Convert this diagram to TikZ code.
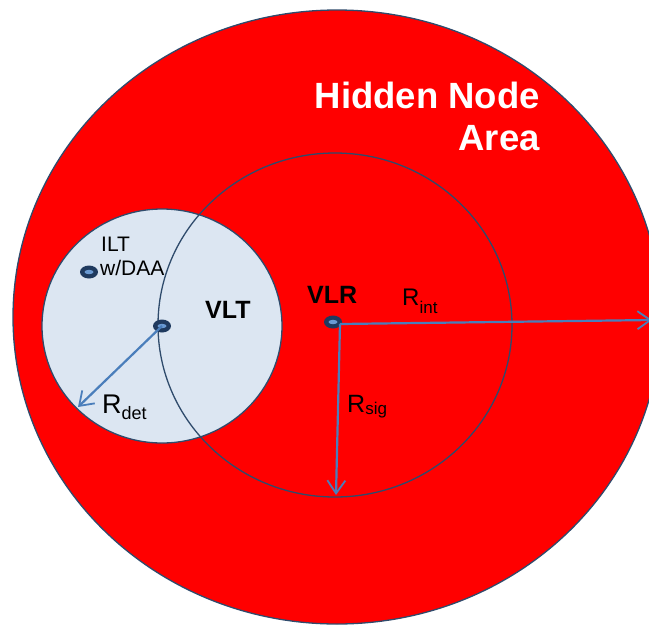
\documentclass[tikz,border=0pt]{standalone}
\usepackage{fontspec}
\setmainfont{Liberation Sans}
\usetikzlibrary{shapes.geometric,arrows.meta}
\definecolor{hred}{HTML}{FF0000}
\definecolor{edgeblue}{HTML}{2F4B6C}
\definecolor{lblue}{HTML}{DCE6F2}
\definecolor{arrowblue}{HTML}{4A7EBB}
\definecolor{dotnavy}{HTML}{1F3A5F}
\definecolor{dotinner}{HTML}{6A9AD3}
\tikzset{
  dotnode/.style={ellipse, fill=dotnavy, minimum width=18pt, minimum height=13pt, inner sep=0pt,
    path picture={\fill[dotinner] (path picture bounding box.center) ellipse [x radius=4.5pt, y radius=2.2pt];}},
  rarrow/.style={draw=arrowblue, line width=2.2pt, -{Straight Barb[length=13pt,width=18pt,line width=1.8pt]}},
  lbl/.style={inner sep=0pt, anchor=base west},
  boldlbl/.style={lbl, font=\fontsize{25}{25}\selectfont\bfseries},
  hidden/.style={inner sep=0pt, anchor=base east, text=white, font=\fontsize{36.5}{36.5}\selectfont\bfseries},
  ring/.style={draw=edgeblue, line width=1.3pt}
}
\begin{document}
\begin{tikzpicture}[x=1pt,y=-1pt]
\useasboundingbox (0,0) rectangle (649,625);
\clip (0,0) rectangle (649,625);
% hidden node area
\filldraw[ring, fill=hred] (337,317) ellipse [x radius=324, y radius=307];
% detection area of VLT
\filldraw[ring, fill=lblue] (162,326) ellipse [x radius=120, y radius=117];
% signal range of VLR
\draw[ring] (335,325) ellipse [x radius=177, y radius=172];
% stations
\node[dotnode] (ilt) at (89,272) {};
\node[dotnode] (vlt) at (162,326) {};
\node[dotnode] (vlr) at (333,322) {};
% radii
\coordinate (vlrc) at (340,324);
\coordinate (intend) at (652,320);
\coordinate (sigend) at (336,495);
\coordinate (detend) at (78,407);
\draw[rarrow] (vlrc) -- (intend);
\draw[rarrow] (vlrc) -- (sigend);
\draw[rarrow] (vlt.center) -- (detend);
% labels
\node[hidden] (hn1) at (540,108) {Hidden Node};
\node[hidden] (hn2) at (540,150) {Area};
\node[boldlbl] (vlrlabel) at (307,303) {VLR};
\node[boldlbl] (vltlabel) at (205,318) {VLT};
\node[lbl, font=\fontsize{21}{21}\selectfont] (iltlabel) at (101,251) {ILT};
\node[lbl, font=\fontsize{21}{21}\selectfont] (daalabel) at (100,275) {w/DAA};
\node[lbl, font=\fontsize{27}{27}\selectfont] (rdet) at (102,413) {R{\fontsize{18}{18}\selectfont\raisebox{-6pt}{det}}};
\node[lbl, font=\fontsize{25}{25}\selectfont] (rsig) at (347,412) {R{\fontsize{17}{17}\selectfont\raisebox{-2pt}{sig}}};
\node[lbl, font=\fontsize{24}{24}\selectfont] (rint) at (402,305) {R{\fontsize{17}{17}\selectfont\raisebox{-8pt}{int}}};
\end{tikzpicture}
\end{document}
